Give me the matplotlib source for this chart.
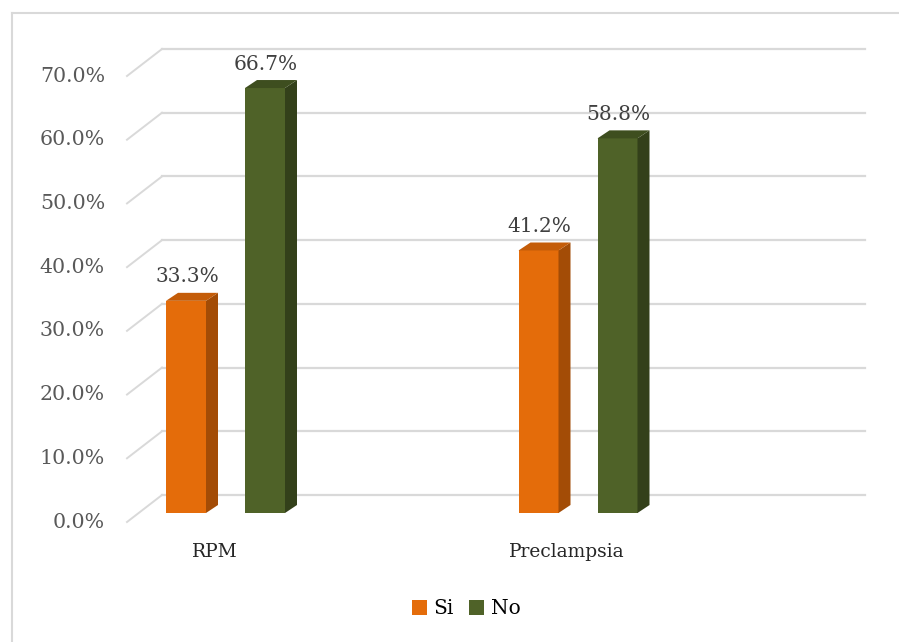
import matplotlib
matplotlib.use("Agg")
import matplotlib.pyplot as plt
import matplotlib.transforms as mtransforms
from matplotlib.patches import Polygon, Patch
from matplotlib.lines import Line2D
import numpy as np

# ---- data ----
categories = ["RPM", "Preclampsia"]
series_names = ["Si", "No"]
si_values = [33.3, 41.2]
no_values = [66.7, 58.8]
y_ticks = [0, 10, 20, 30, 40, 50, 60, 70]
y_tick_labels = ["0.0%", "10.0%", "20.0%", "30.0%", "40.0%", "50.0%", "60.0%", "70.0%"]

# ---- styling ----
W, H, DPI = 899, 642, 100
front_colors = ["#E46C0A", "#4F6228"]
side_colors = ["#A34C06", "#33401A"]
top_colors = ["#C45C08", "#3E4E1F"]
grid_color = "#D9D9D9"
font_family = ["DejaVu Serif"]

fig = plt.figure(figsize=(W / DPI, H / DPI), dpi=DPI)
fig.patch.set_facecolor("white")

# axes = plane through the bar fronts
ax_left, ax_bottom, ax_w, ax_h = 138, 129, 703, 446
ax = fig.add_axes([ax_left / W, ax_bottom / H, ax_w / W, ax_h / H])
ax.set_axis_off()
cat_px = 352.5
x0 = -87.5 / cat_px
ax.set_xlim(x0, x0 + ax_w / cat_px)
ax.set_ylim(0, 70)

def offset(dx, dy):
    """pixel translation (dy positive = downward on screen)"""
    return mtransforms.ScaledTranslation(dx / DPI, -dy / DPI, fig.dpi_scale_trans)

back = ax.transData + offset(24, -18)
front = ax.transData + offset(-11, 9)

xl = ax.get_xlim()
# back wall grid lines and the receding floor/side edges
for t in y_ticks:
    ax.add_line(Line2D([xl[0], xl[1]], [t, t], transform=back, color=grid_color,
                       lw=1.6, zorder=1, clip_on=False))
    p_front = front.transform((xl[0], t))
    p_back = back.transform((xl[0], t))
    ax.add_line(Line2D([p_front[0], p_back[0]], [p_front[1], p_back[1]],
                       transform=None, color=grid_color, lw=1.4, zorder=1, clip_on=False))

# y tick labels on the front plane
ytf = mtransforms.blended_transform_factory(ax.transAxes, ax.transData) + offset(-33, 9)
for t, lab in zip(y_ticks, y_tick_labels):
    ax.text(0, t, lab, transform=ytf, ha="right", va="center", fontsize=14.8,
            color="#595959", family=font_family)

# category labels
xtf = ax.transData + offset(-11, 39)
for i, c in enumerate(categories):
    ax.text(i, 0, c, transform=xtf, ha="center", va="center", fontsize=13.4,
            color="#262626", family=font_family)

# 3D-looking bars
bar_w = 40 / cat_px
bar_off = 39.5 / cat_px
depth_dx, depth_dy = 12, 8  # pixels

inv = ax.transData.inverted()
def px_to_data(dx, dy):
    p0 = ax.transData.transform((0, 0))
    d = inv.transform(p0 + np.array([dx, dy])) - inv.transform(p0)
    return d[0], d[1]

ddx, ddy = px_to_data(depth_dx, depth_dy)

for s, vals in enumerate([si_values, no_values]):
    for i, v in enumerate(vals):
        xc = i + (-bar_off if s == 0 else bar_off)
        l, r = xc - bar_w / 2, xc + bar_w / 2
        ax.bar(xc, v, width=bar_w, color=front_colors[s], zorder=3, clip_on=False)
        side = Polygon([(r, 0), (r + ddx, ddy), (r + ddx, v + ddy), (r, v)],
                       closed=True, facecolor=side_colors[s], edgecolor="none",
                       zorder=3, clip_on=False)
        top = Polygon([(l, v), (r, v), (r + ddx, v + ddy), (l + ddx, v + ddy)],
                      closed=True, facecolor=top_colors[s], edgecolor="none",
                      zorder=3, clip_on=False)
        ax.add_patch(side)
        ax.add_patch(top)
        ax.text(xc, v, f"{v:.1f}%", transform=ax.transData + offset(1, -24),
                ha="center", va="center", fontsize=14.5, color="#404040",
                family=font_family, zorder=4)

# chart border
fig.add_artist(Line2D([12 / W, 12 / W], [0, 1 - 13 / H], transform=fig.transFigure,
                      color=grid_color, lw=1.5))
fig.add_artist(Line2D([12 / W, 1], [1 - 13 / H, 1 - 13 / H], transform=fig.transFigure,
                      color=grid_color, lw=1.5))

# legend
handles = [Patch(facecolor=front_colors[k], edgecolor="none", label=series_names[k])
           for k in range(2)]
fig.legend(handles=handles, loc="center", bbox_to_anchor=(466 / W, 1 - 609 / H),
           ncol=2, frameon=False, handlelength=0.75, handleheight=0.75,
           handletextpad=0.3, columnspacing=0.8,
           prop={"family": font_family, "size": 14.5})

fig.savefig("out.png", dpi=DPI, facecolor="white")
